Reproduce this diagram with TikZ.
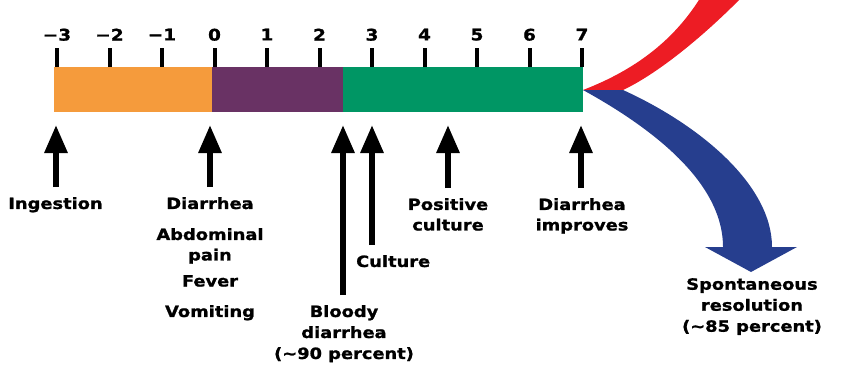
\documentclass[tikz,border=0pt]{standalone}
\usepackage{fontspec}
\setmainfont{DejaVu Sans}[FakeStretch=1.15, BoldFeatures={FakeBold=1.2}]
\usetikzlibrary{arrows.meta}
\definecolor{cOrange}{RGB}{245,155,60}
\definecolor{cPurple}{RGB}{105,50,100}
\definecolor{cGreen}{RGB}{0,150,100}
\definecolor{cRed}{RGB}{237,28,36}
\definecolor{cBlue}{RGB}{38,62,142}
\tikzset{
  lbl/.style={font=\fontsize{15.5}{20.5}\selectfont\bfseries, inner sep=0pt, align=center, anchor=north},
  ticklbl/.style={font=\fontsize{16}{18}\selectfont\bfseries, inner sep=0pt, anchor=north},
  tickmark/.style={line width=4pt},
  uparrow/.style={line width=6pt, -{Triangle[width=22pt,length=28pt]}, shorten <=10pt},
}
\begin{document}
\begin{tikzpicture}[x=1pt,y=-1pt]
\useasboundingbox (0,0) rectangle (846,367);
\clip (0,0) rectangle (846,367);
% bar
\fill[cOrange] (54,67) rectangle (212,112);
\fill[cPurple] (212,67) rectangle (343,112);
\fill[cGreen] (343,67) rectangle (583,112);
% ticks and labels
\foreach \v [count=\i from 0] in {−3,−2,−1,0,1,2,3,4,5,6,7} {
  \draw[tickmark] ({57+52.5*\i},48) -- ({57+52.5*\i},67);
  \node[ticklbl] (t\i) at ({57+52.5*\i},28.5) {\v};
}
% red band
\fill[cRed] (583,90) .. controls (635,70) and (675,40) .. (702,-5)
  -- (744,-5) .. controls (700,40) and (655,75) .. (623,90) -- cycle;
% blue band with arrowhead
\fill[cBlue] (583,90) -- (623,90) .. controls (700,125) and (772,185) .. (772,247)
  -- (797,247) -- (751,272) -- (705,247) -- (723,247)
  .. controls (723,182) and (652,128) .. (583,90) -- cycle;
% labels
\node[lbl] (ing) at (55.5,197) {Ingestion};
\node[lbl] (dia) at (210,197) {Diarrhea};
\node[lbl] (abd) at (210,228) {Abdominal\\pain};
\node[lbl] (fev) at (210,275) {Fever};
\node[lbl] (vom) at (210,305) {Vomiting};
\node[lbl,font=\fontsize{15.5}{21}\selectfont\bfseries] (blo) at (344,305) {Bloody\\diarrhea\\(\textasciitilde 90 percent)};
\node[lbl,anchor=north west] (cul) at (356,255) {Culture};
\node[lbl] (pos) at (448,198) {Positive\\culture};
\node[lbl] (imp) at (582,198) {Diarrhea\\improves};
\node[lbl,font=\fontsize{15.5}{21}\selectfont\bfseries] (spo) at (752,278) {Spontaneous\\resolution\\(\textasciitilde 85 percent)};
% arrow tips
\coordinate (aIng) at (56,125);
\coordinate (aDia) at (210,125);
\coordinate (aBlo) at (343,125);
\coordinate (aCul) at (372,125);
\coordinate (aPos) at (448,125);
\coordinate (aImp) at (581,125);
\draw[uparrow] (aIng |- ing.north) -- (aIng);
\draw[uparrow] (aDia |- dia.north) -- (aDia);
\draw[uparrow] (aBlo |- blo.north) -- (aBlo);
\draw[uparrow] (aCul |- cul.north) -- (aCul);
\draw[uparrow] (aPos |- pos.north) -- (aPos);
\draw[uparrow] (aImp |- imp.north) -- (aImp);
\end{tikzpicture}
\end{document}
